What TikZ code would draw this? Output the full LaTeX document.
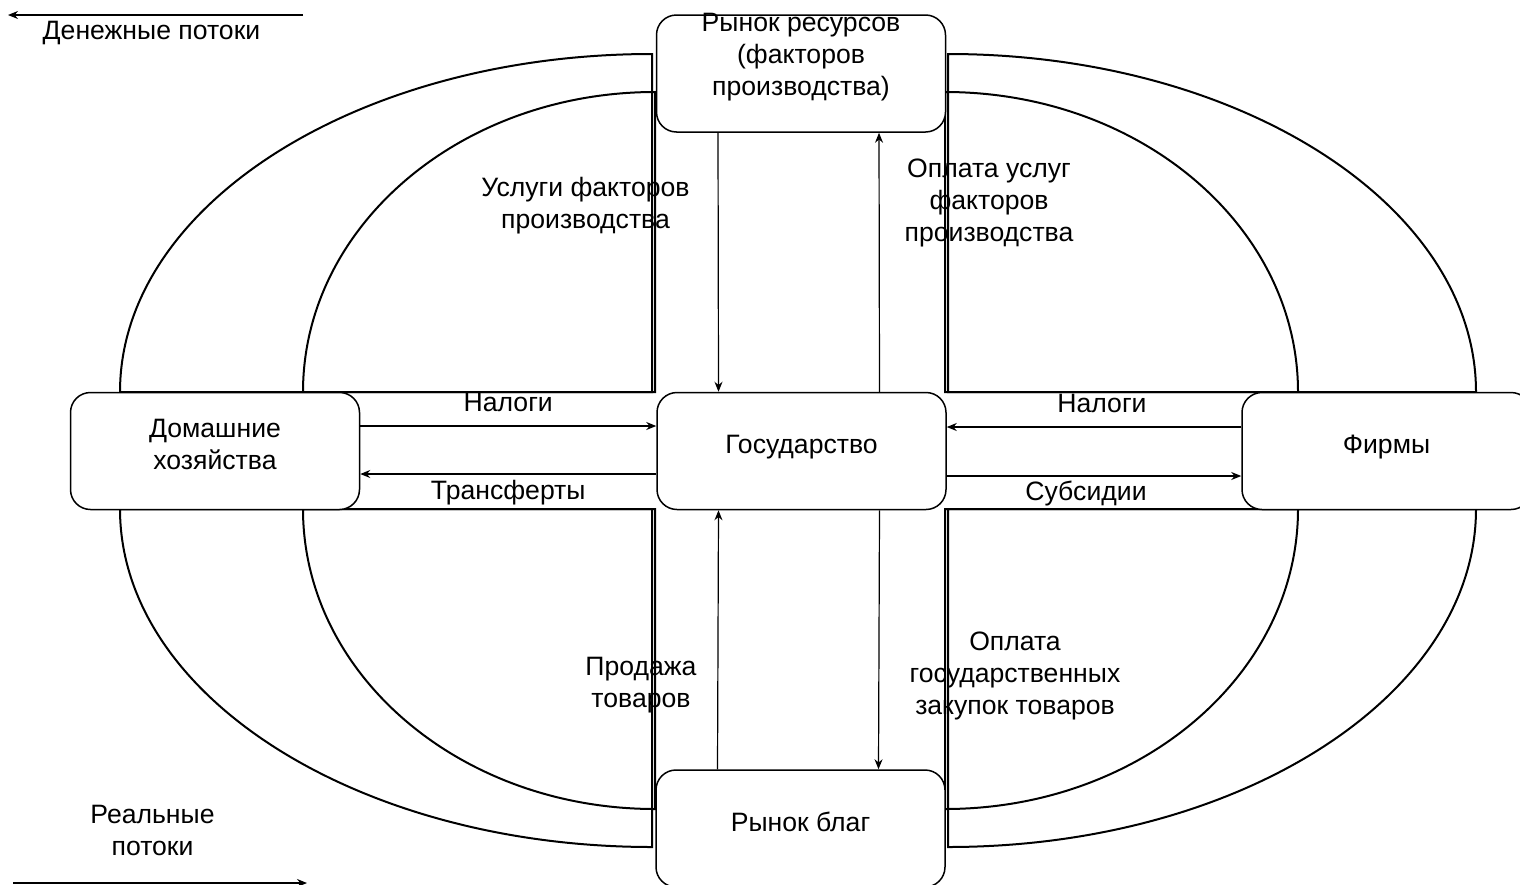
\documentclass[tikz,border=0pt]{standalone}
\usepackage{fontspec}
\setmainfont{Liberation Sans}
\usetikzlibrary{arrows.meta}
\newcommand\diagfont{\fontsize{13.3pt}{16pt}\selectfont}

\begin{document}
\begin{tikzpicture}[x=0.5pt,y=-0.5pt,
  box/.style={draw,fill=white,rounded corners=10pt,line width=0.75pt,
    minimum width=144.5pt,minimum height=58.5pt,inner sep=0pt,
    text depth=6.5pt,align=center,font=\diagfont},
  lbl/.style={align=center,inner sep=0pt,font=\diagfont},
  quad/.style={line width=1pt},
  flow/.style={-{Stealth[length=5pt,width=4pt]},line width=0.6pt}]
\useasboundingbox (0,0) rectangle (1520,884);

% quarter shapes
\draw[quad] (120,392) .. controls (120,205.3) and (358.2,54) .. (652,54) -- (652,392) -- cycle;
\draw[quad] (303,392) .. controls (303,226.3) and (460.6,92) .. (655,92) -- (655,392) -- cycle;
\draw[quad] (1476,392) .. controls (1476,205.3) and (1239.6,54) .. (948,54) -- (948,392) -- cycle;
\draw[quad] (1298,392) .. controls (1298,226.3) and (1140,92) .. (945,92) -- (945,392) -- cycle;
\draw[quad] (120,509) .. controls (120,695.7) and (358.2,847) .. (652,847) -- (652,509) -- cycle;
\draw[quad] (303,509) .. controls (303,674.7) and (460.6,809) .. (655,809) -- (655,509) -- cycle;
\draw[quad] (1476,509) .. controls (1476,695.7) and (1239.6,847) .. (948,847) -- (948,509) -- cycle;
\draw[quad] (1298,509) .. controls (1298,674.7) and (1140,809) .. (945,809) -- (945,509) -- cycle;

% boxes
\node[box] (R) at (801,73.5) {};
\node[lbl] (Rt) at (801,57.5) {Рынок ресурсов\\(факторов\\производства)};
\node[box] (H) at (215,451) {Домашние\\хозяйства};
\node[box] (G) at (801.5,451) {Государство};
\node[box] (F) at (1386.5,451) {Фирмы};
\node[box] (M) at (800.5,828.5) {Рынок благ};

% flows
\draw[flow] ([xshift=-41.5pt]R.south) -- ([xshift=-41.5pt]G.north);
\draw[flow] ([xshift=39pt]G.north) -- ([xshift=39pt]R.south);
\draw[flow] ([xshift=-41.5pt]M.north) -- ([xshift=-41.5pt]G.south);
\draw[flow] ([xshift=39pt]G.south) -- ([xshift=39pt]M.north);
\draw[flow] ([yshift=12.5pt]H.east) -- node[lbl,above=7pt] {Налоги} ([yshift=12.5pt]G.west);
\draw[flow] ([yshift=-11.5pt]G.west) -- node[lbl,below=3pt] {Трансферты} ([yshift=-11.5pt]H.east);
\draw[flow] ([yshift=12pt]F.west) -- node[lbl,above=7pt,xshift=4pt] {Налоги} ([yshift=12pt]G.east);
\draw[flow] ([yshift=-12.5pt]G.east) -- node[lbl,below=2.3pt,xshift=-4pt] {Субсидии} ([yshift=-12.5pt]F.west);

% labels
\node[lbl] (L1) at (585.5,206) {Услуги факторов\\производства};
\node[lbl] (L2) at (989,203) {Оплата услуг\\факторов\\производства};
\node[lbl] (L3) at (641,685) {Продажа\\товаров};
\node[lbl] (L4) at (1015,676) {Оплата\\государственных\\закупок товаров};

% legend
\coordinate (m1) at (303,15);
\coordinate (m2) at (8,15);
\draw[flow] (m1) -- (m2);
\node[lbl] (mt) at (151.5,33) {Денежные потоки};
\coordinate (r1) at (13,883);
\coordinate (r2) at (307,883);
\draw[flow] (r1) -- (r2);
\node[lbl] (rt) at (152.5,830) {Реальные\\потоки};
\end{tikzpicture}
\end{document}
